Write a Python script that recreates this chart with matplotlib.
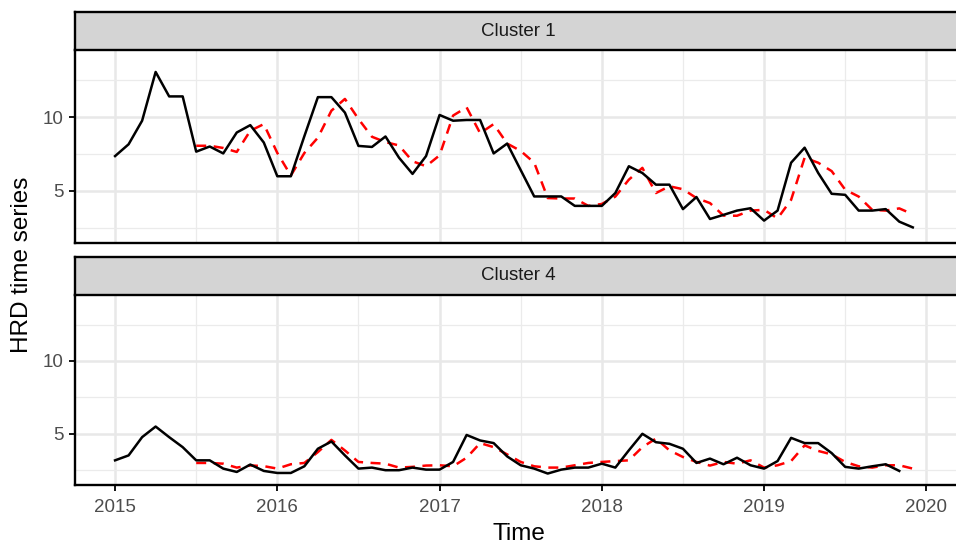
import numpy as np
import matplotlib
matplotlib.use("Agg")
import matplotlib.pyplot as plt
from matplotlib.ticker import MultipleLocator

plt.rcParams['font.family'] = ['Liberation Sans', 'DejaVu Sans']

# monthly series, Jan 2015 .. Dec 2019
months = 2015 + np.arange(60) / 12.0

c1_obs = [7.35, 8.15, 9.75, 13.06, 11.4, 11.4, 7.65, 8.0, 7.53, 8.95,
          9.45, 8.27, 5.98, 5.98, 8.7, 11.35, 11.35, 10.3, 8.04, 7.97,
          8.68, 7.24, 6.14, 7.35, 10.14, 9.75, 9.8, 9.8, 7.53, 8.2,
          6.4, 4.61, 4.61, 4.61, 3.97, 3.97, 3.97, 4.84, 6.66, 6.2,
          5.41, 5.41, 3.75, 4.57, 3.08, 3.36, 3.65, 3.81, 2.97, 3.65,
          6.9, 7.92, 6.21, 4.79, 4.72, 3.65, 3.65, 3.75, 2.9, 2.51]

c1_fit = [np.nan] * 6 + [
          8.05, 8.05, 7.9, 7.63, 9.07, 9.52, 7.56, 6.03, 7.56, 8.6,
          10.43, 11.23, 9.87, 8.66, 8.3, 8.07, 7.0, 6.66, 7.4, 10.1,
          10.66, 8.9, 9.52, 8.2, 7.7, 6.9, 4.5, 4.47, 4.47, 3.97,
          4.1, 4.6, 5.75, 6.55, 4.84, 5.3, 5.1, 4.5, 4.16, 3.31,
          3.3, 3.65, 3.7, 3.12, 4.38, 7.24, 6.9, 6.33, 5.07, 4.6,
          3.7, 3.65, 3.8, 3.4]

c4_obs = [3.15, 3.49, 4.75, 5.48, 4.75, 4.06, 3.15, 3.15, 2.58, 2.35,
          2.86, 2.42, 2.28, 2.28, 2.74, 3.95, 4.45, 3.49, 2.58, 2.65,
          2.47, 2.47, 2.65, 2.51, 2.51, 3.04, 4.9, 4.52, 4.34, 3.42,
          2.81, 2.58, 2.24, 2.51, 2.65, 2.65, 2.92, 2.65, 3.84, 4.98,
          4.4, 4.29, 3.95, 2.97, 3.27, 2.88, 3.33, 2.81, 2.58, 3.1,
          4.7, 4.34, 4.34, 3.65, 2.7, 2.58, 2.74, 2.88, 2.42, np.nan]

c4_fit = [np.nan] * 6 + [
          2.97, 2.97, 2.92, 2.65, 2.8, 2.75, 2.58, 2.88, 2.97, 3.72,
          4.56, 3.83, 3.04, 2.97, 2.92, 2.65, 2.7, 2.79, 2.81, 2.74,
          3.33, 4.34, 4.06, 3.56, 3.04, 2.74, 2.65, 2.65, 2.81, 2.97,
          3.04, 3.1, 3.15, 4.06, 4.65, 3.84, 3.38, 3.04, 2.79, 3.04,
          2.92, 3.15, 2.65, 2.81, 3.1, 4.18, 3.8, 3.56, 3.04, 2.74,
          2.65, 2.81, 2.81, 2.58]

panels = [("Cluster 1", c1_obs, c1_fit), ("Cluster 4", c4_obs, c4_fit)]
year_ticks = [2015, 2016, 2017, 2018, 2019, 2020]

W, H = 956, 545
fig = plt.figure(figsize=(W / 100, H / 100), dpi=100)

left = 75 / W
width = (962 - 75) / W
# (strip top, panel top, panel bottom) in pixels from the top
rows = [(12, 50, 243), (257, 295, 485)]

for k, ((name, obs, fit), (s_top, p_top, p_bot)) in enumerate(zip(panels, rows)):
    ax = fig.add_axes([left, 1 - p_bot / H, width, (p_bot - p_top) / H])
    strip = fig.add_axes([left, 1 - p_top / H, width, (p_top - s_top) / H])

    ax.plot(months, fit, color="red", lw=1.8, ls=(0, (4, 3)), zorder=3)
    ax.plot(months, obs, color="black", lw=1.8, zorder=4)

    ax.set_xlim(2014.753, 2020.22)
    ax.set_ylim(1.45, 14.55)
    ax.set_xticks(year_ticks)
    ax.xaxis.set_minor_locator(MultipleLocator(0.5))
    ax.set_yticks([5, 10])
    ax.yaxis.set_minor_locator(MultipleLocator(2.5))
    ax.grid(True, which="major", color="#E8E8E8", lw=1.8)
    ax.grid(True, which="minor", color="#EBEBEB", lw=0.9)
    ax.set_axisbelow(True)
    ax.tick_params(which="minor", length=0)
    ax.tick_params(axis="both", which="major", length=4, width=1.3,
                   color="black", labelsize=13.5, labelcolor="#4D4D4D", pad=4)
    ax.tick_params(axis="x", pad=6)
    for side in ("top", "right"):
        ax.spines[side].set_visible(False)
    for side in ("left", "bottom"):
        ax.spines[side].set_color("black")
        ax.spines[side].set_linewidth(1.7)
    if k == 0:
        ax.tick_params(axis="x", length=0, labelbottom=False)
    else:
        ax.set_xticklabels([str(y) for y in year_ticks])
        ax.set_xlabel("Time", fontsize=17.5, color="black", labelpad=5)

    strip.set_facecolor("#D4D4D4")
    strip.set_xticks([])
    strip.set_yticks([])
    for sp in strip.spines.values():
        sp.set_color("black")
        sp.set_linewidth(1.7)
    strip.text(0.5, 0.5, name, transform=strip.transAxes, ha="center",
               va="center", fontsize=13.5, color="#1A1A1A")

fig.text(22 / W, 1 - 265 / H, "HRD time series", rotation=90, ha="center",
         va="center", fontsize=17.5, color="black")

fig.savefig("out.png", dpi=100)
